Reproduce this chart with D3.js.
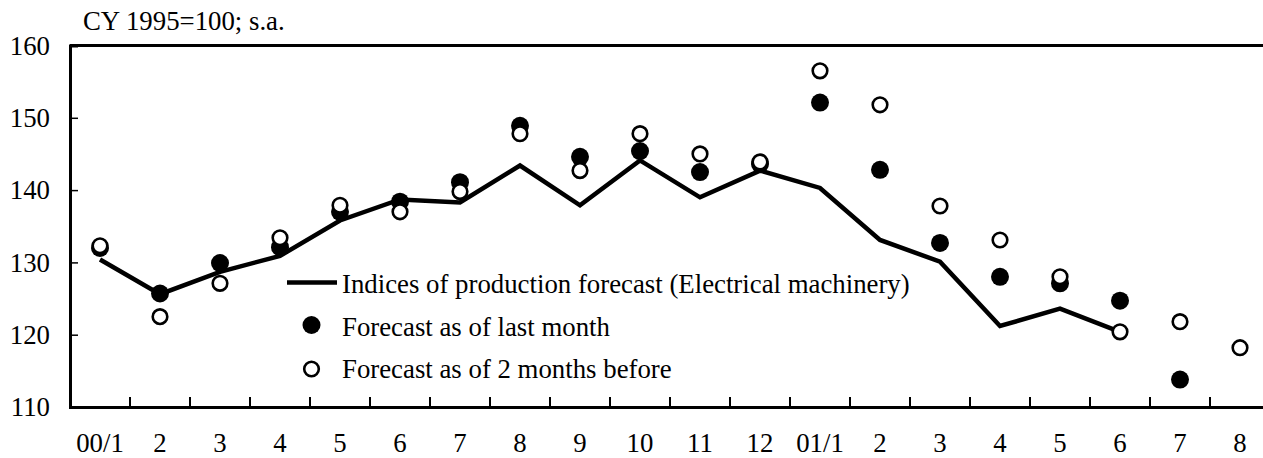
<!DOCTYPE html>
<html>
<head>
<meta charset="utf-8">
<script src="https://cdn.jsdelivr.net/npm/d3@7"></script>
<style>
  body { margin: 0; background: #fff; }
  svg text { font-family: "Liberation Serif", "Times New Roman", serif; fill: #000; font-size: 26.8px; }
</style>
</head>
<body>
<svg id="chart" width="1263" height="458"></svg>
<script>
// month labels on the x axis
const months = ["00/1", "2", "3", "4", "5", "6", "7", "8", "9", "10", "11", "12",
  "01/1", "2", "3", "4", "5", "6", "7", "8"];
// keys so the repeated month names stay distinct
const keys = months.map((m, i) => i);

// Indices of production forecast (Electrical machinery), 00/1 .. 01/6
const indices = [130.4, 125.6, 128.7, 130.9, 135.8, 138.7, 138.3, 143.4, 137.9, 144.1,
  139.0, 142.7, 140.3, 133.1, 130.1, 121.2, 123.6, 120.4];
// Forecast as of last month, 00/1 .. 01/7
const lastMonth = [132.0, 125.7, 129.9, 132.1, 137.0, 138.4, 141.1, 148.9, 144.6, 145.4,
  142.5, 143.6, 152.1, 142.8, 132.7, 128.0, 127.1, 124.7, 113.8];
// Forecast as of 2 months before, 00/1 .. 01/8
const twoMonths = [132.3, 122.5, 127.1, 133.4, 137.9, 137.0, 139.8, 147.8, 142.7, 147.8,
  145.0, 143.9, 156.5, 151.8, 137.8, 133.1, 128.0, 120.4, 121.8, 118.2];

const yTicks = [110, 120, 130, 140, 150, 160];

const svg = d3.select("#chart");
const mLeft = 70, mRight = 1270, mTop = 45.5, mBottom = 407;

const x = d3.scaleBand().domain(keys).range([mLeft, mRight]);
const y = d3.scaleLinear().domain([110, 160]).range([mBottom, mTop]);
const cx = i => x(i) + x.bandwidth() / 2;

// title
svg.append("text")
  .attr("x", 83).attr("y", 30)
  .text("CY 1995=100; s.a.");

// top frame line
svg.append("line")
  .attr("x1", mLeft).attr("x2", mRight)
  .attr("y1", y(160)).attr("y2", y(160))
  .attr("stroke", "#000").attr("stroke-width", 3);

// y axis, ticks pointing inward
const yAxis = svg.append("g")
  .attr("transform", `translate(${mLeft},0)`)
  .call(d3.axisRight(y).tickValues(yTicks).tickSize(8).tickFormat(""));
yAxis.select(".domain").attr("stroke-width", 3);
yAxis.selectAll(".tick line").attr("stroke-width", 1.5);

svg.append("g").selectAll("text")
  .data(yTicks)
  .join("text")
  .attr("x", 50)
  .attr("y", d => y(d))
  .attr("dy", "0.34em")
  .attr("text-anchor", "end")
  .text(d => d);

// x axis, ticks between months pointing up
const xAxis = svg.append("g")
  .attr("transform", `translate(0,${mBottom})`)
  .call(d3.axisTop(x).tickSize(10).tickFormat("").tickSizeOuter(0));
xAxis.select(".domain").attr("stroke-width", 3);
xAxis.selectAll(".tick")
  .attr("transform", d => `translate(${x(d)},0)`)
  .filter(d => d === 0).remove();
xAxis.selectAll(".tick line").attr("stroke-width", 2);

svg.append("g").selectAll("text")
  .data(keys)
  .join("text")
  .attr("x", d => cx(d))
  .attr("y", 452)
  .attr("text-anchor", "middle")
  .text(d => months[d]);

// line series
const line = d3.line()
  .x((d, i) => cx(i))
  .y(d => y(d));

svg.append("path")
  .datum(indices)
  .attr("d", line)
  .attr("fill", "none")
  .attr("stroke", "#000")
  .attr("stroke-width", 4.5)
  .attr("stroke-linejoin", "miter");

// filled markers
svg.append("g").selectAll("circle")
  .data(lastMonth)
  .join("circle")
  .attr("cx", (d, i) => cx(i))
  .attr("cy", d => y(d))
  .attr("r", 9)
  .attr("fill", "#000");

// open markers
svg.append("g").selectAll("circle")
  .data(twoMonths)
  .join("circle")
  .attr("cx", (d, i) => cx(i))
  .attr("cy", d => y(d))
  .attr("r", 7.3)
  .attr("fill", "#fff")
  .attr("stroke", "#000")
  .attr("stroke-width", 2.6);

// legend
const legend = svg.append("g");
legend.append("line")
  .attr("x1", 287).attr("x2", 337).attr("y1", 282.5).attr("y2", 282.5)
  .attr("stroke", "#000").attr("stroke-width", 4.5);
legend.append("circle").attr("cx", 311.5).attr("cy", 325).attr("r", 9).attr("fill", "#000");
legend.append("circle").attr("cx", 311.5).attr("cy", 369).attr("r", 7.3)
  .attr("fill", "#fff").attr("stroke", "#000").attr("stroke-width", 2.6);
const legendText = ["Indices of production forecast (Electrical machinery)",
  "Forecast as of last month", "Forecast as of 2 months before"];
legend.selectAll("text")
  .data(legendText)
  .join("text")
  .attr("x", 342)
  .attr("y", (d, i) => 293 + i * 42.5)
  .text(d => d);
</script>
</body>
</html>
